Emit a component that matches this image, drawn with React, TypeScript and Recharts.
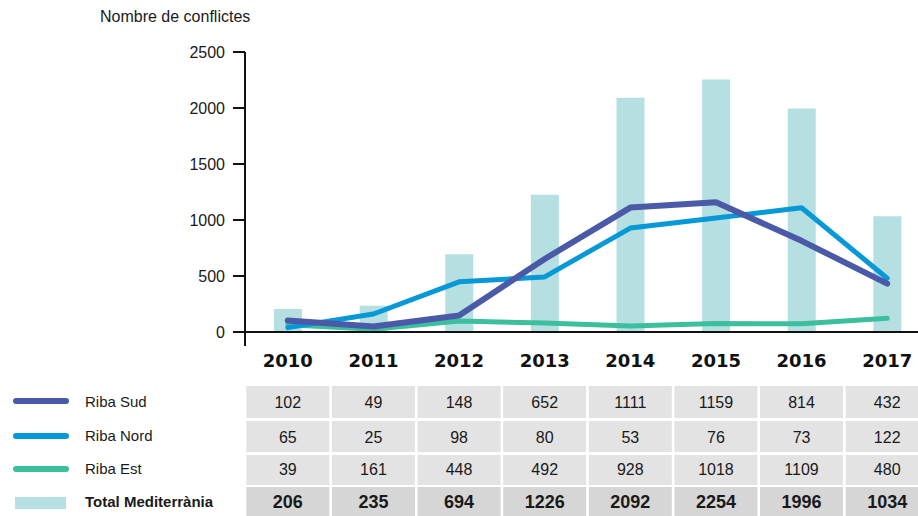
import { ComposedChart, Bar, Line, XAxis, YAxis } from 'recharts';

const YEARS = ['2010', '2011', '2012', '2013', '2014', '2015', '2016', '2017'];
const RIBA_SUD = [102, 49, 148, 652, 1111, 1159, 814, 432];
const RIBA_NORD = [65, 25, 98, 80, 53, 76, 73, 122];
const RIBA_EST = [39, 161, 448, 492, 928, 1018, 1109, 480];
const TOTAL = [206, 235, 694, 1226, 2092, 2254, 1996, 1034];
const Y_TICKS = [0, 500, 1000, 1500, 2000, 2500];

const COLORS = {
  sud: '#4a5aa8',
  nord: '#0798d8',
  est: '#3cbf9c',
  total: '#b6dfe1',
};

const FONT = '"Liberation Sans", Arial, sans-serif';

// chart geometry
const CHART_W = 940;
const CHART_H = 516;
const PLOT_LEFT = 245;
const PLOT_RIGHT = 930;
const PLOT_BOTTOM = 332;
const BAND = (PLOT_RIGHT - PLOT_LEFT) / YEARS.length;

const TABLE_ROWS = [
  { values: RIBA_SUD, bold: false },
  { values: RIBA_NORD, bold: false },
  { values: RIBA_EST, bold: false },
  { values: TOTAL, bold: true },
];
const ROW_BOXES = [
  { top: 386, bottom: 418, base: 408 },
  { top: 421, bottom: 452, base: 443 },
  { top: 455, bottom: 485, base: 475 },
  { top: 487, bottom: 520, base: 508 },
];

const LEGEND = [
  { label: 'Riba Sud', color: COLORS.sud, y: 401, base: 407 },
  { label: 'Riba Nord', color: COLORS.nord, y: 436, base: 441 },
  { label: 'Riba Est', color: COLORS.est, y: 469, base: 474 },
];

const data = YEARS.map((year, i) => ({
  year,
  sud: RIBA_SUD[i],
  nord: RIBA_NORD[i],
  est: RIBA_EST[i],
  total: TOTAL[i],
}));

function YearTick(props: any) {
  const { x, payload } = props;
  const i = YEARS.indexOf(payload.value);
  return (
    <g>
      <text
        x={x}
        y={367}
        textAnchor="middle"
        fontFamily='"DejaVu Sans", sans-serif'
        fontWeight={700}
        fontSize={18}
        fill="#111"
      >
        {payload.value}
      </text>
      {i === 0 && (
        <line x1={x - BAND / 2} x2={x - BAND / 2} y1={PLOT_BOTTOM} y2={346} stroke="#111" strokeWidth={2} />
      )}
      {TABLE_ROWS.map((row, r) => {
        const box = ROW_BOXES[r];
        return (
          <g key={r}>
            <rect
              x={x - 41.5}
              y={box.top}
              width={83}
              height={box.bottom - box.top}
              fill={row.bold ? '#d6d6d6' : '#e3e3e3'}
            />
            <text
              x={x}
              y={box.base}
              textAnchor="middle"
              fontFamily={FONT}
              fontSize={row.bold ? 18 : 16}
              fontWeight={row.bold ? 700 : 400}
              fill="#1a1a1a"
            >
              {row.values[i]}
            </text>
          </g>
        );
      })}
    </g>
  );
}

export default function App() {
  return (
    <div
      style={{
        position: 'absolute',
        left: 0,
        top: 0,
        width: 918,
        height: 516,
        overflow: 'hidden',
        background: '#fff',
        fontFamily: FONT,
      }}
    >
      <div style={{ position: 'absolute', left: 100, top: 8, fontSize: 16, color: '#1a1a1a' }}>
        Nombre de conflictes
      </div>

      <div style={{ position: 'absolute', left: 0, top: 0 }}>
        <ComposedChart
          width={CHART_W}
          height={CHART_H}
          data={data}
          margin={{ top: 52, right: CHART_W - PLOT_RIGHT, bottom: 0, left: 0 }}
        >
          <XAxis
            dataKey="year"
            height={CHART_H - PLOT_BOTTOM}
            interval={0}
            tickLine={false}
            axisLine={{ stroke: '#111', strokeWidth: 2 }}
            tick={(p: any) => <YearTick {...p} />}
          />
          <YAxis
            width={PLOT_LEFT}
            domain={[0, 2500]}
            ticks={Y_TICKS}
            tickSize={12}
            tickMargin={8}
            tickLine={{ stroke: '#111', strokeWidth: 2 }}
            axisLine={{ stroke: '#111', strokeWidth: 2 }}
            tick={{ fontSize: 16, fill: '#1a1a1a', fontFamily: FONT }}
          />
          <Bar dataKey="total" fill={COLORS.total} barSize={28} isAnimationActive={false} />
          <Line
            dataKey="nord"
            stroke={COLORS.est}
            strokeWidth={5}
            dot={false}
            strokeLinecap="round"
            strokeLinejoin="round"
            isAnimationActive={false}
          />
          <Line
            dataKey="est"
            stroke={COLORS.nord}
            strokeWidth={5}
            dot={false}
            strokeLinecap="round"
            strokeLinejoin="round"
            isAnimationActive={false}
          />
          <Line
            dataKey="sud"
            stroke={COLORS.sud}
            strokeWidth={6}
            dot={false}
            strokeLinecap="round"
            strokeLinejoin="round"
            isAnimationActive={false}
          />
        </ComposedChart>
      </div>

      <svg width={240} height={516} style={{ position: 'absolute', left: 0, top: 0 }}>
        {LEGEND.map((item) => (
          <g key={item.label}>
            <line x1={16} x2={66} y1={item.y} y2={item.y} stroke={item.color} strokeWidth={6} strokeLinecap="round" />
            <text x={85} y={item.base} fontFamily={FONT} fontSize={15} fill="#1a1a1a">
              {item.label}
            </text>
          </g>
        ))}
        <rect x={15} y={497} width={51} height={12} fill={COLORS.total} />
        <text x={85} y={507} fontFamily={FONT} fontSize={15} fontWeight={700} fill="#1a1a1a">
          Total Mediterrània
        </text>
      </svg>
    </div>
  );
}
